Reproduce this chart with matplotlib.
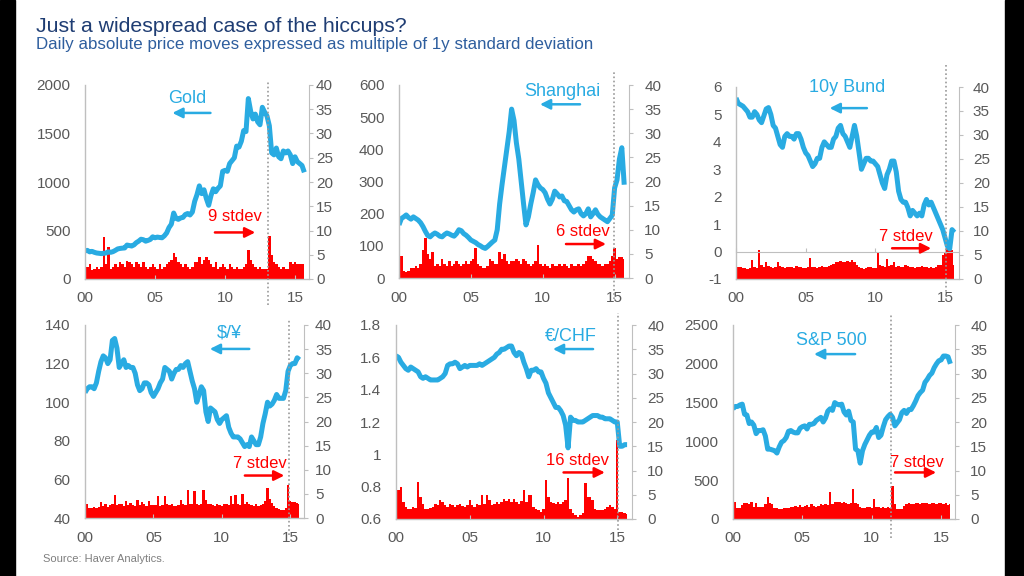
import numpy as np
import matplotlib
matplotlib.use("Agg")
import matplotlib.pyplot as plt
from matplotlib.patches import Rectangle

plt.rcParams['font.family'] = ['Liberation Sans', 'DejaVu Sans']

# ---------------- data (bi-monthly readings, starting Jan 2000) ----------------
START_YEAR = 2000
PER_YEAR = 6

x_ticks = [2000, 2005, 2010, 2015]
x_tick_labels = ["00", "05", "10", "15"]
stdev_ticks = [0, 5, 10, 15, 20, 25, 30, 35, 40]

gold_price = [
    290, 295, 280, 285, 275, 268,
    265, 262, 265, 268, 280, 275,
    282, 295, 310, 315, 318, 320,
    350, 345, 340, 352, 375, 390,
    410, 405, 390, 398, 408, 435,
    425, 432, 428, 425, 445, 475,
    530, 565, 680, 625, 615, 630,
    635, 665, 675, 660, 690, 800,
    870, 960, 880, 920, 830, 760,
    860, 930, 900, 935, 960, 1110,
    1120, 1110, 1190, 1220, 1250, 1370,
    1360, 1420, 1530, 1520, 1860, 1730,
    1650, 1700, 1620, 1590, 1770, 1720,
    1680, 1580, 1300, 1280, 1350, 1260,
    1240, 1320, 1300, 1320, 1280, 1190,
    1260, 1210, 1190, 1170, 1100]
gold_stdev = [
    6.4, 2.5, 3.0, 1.8, 2.0, 2.5,
    2.0, 2.5, 8.7, 3.0, 6.6, 2.0,
    2.5, 3.0, 2.5, 3.5, 3.0, 2.5,
    3.8, 3.5, 3.0, 2.5, 3.5, 3.0,
    2.5, 3.5, 2.5, 2.0, 2.5, 3.0,
    2.5, 2.0, 3.0, 2.0, 2.5, 3.0,
    3.5, 4.0, 5.4, 4.5, 3.5, 3.0,
    2.5, 3.0, 2.5, 2.0, 2.5, 3.5,
    3.5, 4.5, 3.0, 4.0, 4.5, 4.0,
    3.0, 2.5, 3.5, 2.0, 2.5, 3.0,
    2.5, 2.0, 3.0, 2.5, 2.0, 2.5,
    2.0, 2.0, 2.5, 3.0, 6.0, 4.0,
    3.0, 2.5, 2.0, 2.5, 2.0, 2.0,
    2.0, 8.9, 5.0, 3.5, 3.0, 2.5,
    2.0, 2.5, 2.0, 2.0, 3.5, 3.0,
    3.5, 3.0, 3.0, 3.0, 3.0]

shanghai_price = [
    165, 185, 190, 196, 188, 183,
    190, 185, 180, 172, 160, 145,
    132, 128, 135, 140, 136, 130,
    128, 135, 140, 137, 133, 130,
    138, 150, 147, 138, 133, 126,
    118, 114, 110, 104, 100, 95,
    92, 98, 105, 112, 118, 150,
    230, 290, 345, 400, 455, 525,
    490, 420, 370, 300, 230, 165,
    190, 230, 265, 305, 290, 280,
    275, 265, 245, 230, 245, 270,
    262, 252, 255, 240, 238, 225,
    212, 205, 212, 215, 200, 193,
    200, 215, 190, 200, 212, 198,
    190, 185, 180, 175, 185, 195,
    280, 305, 370, 405, 290]
shanghai_stdev = [
    4.8, 4.5, 1.5, 1.2, 1.5, 2.0,
    2.0, 2.5, 2.0, 3.0, 5.8, 8.3,
    5.0, 4.0, 5.4, 2.5, 3.0, 2.5,
    4.0, 3.0, 2.5, 3.5, 2.5, 3.0,
    3.5, 3.0, 2.5, 3.0, 3.5, 3.0,
    3.5, 4.0, 6.2, 3.0, 2.5, 2.0,
    2.0, 2.5, 4.0, 3.5, 3.0, 3.0,
    5.4, 4.0, 5.0, 3.5, 3.0, 3.5,
    3.5, 4.0, 3.5, 3.0, 4.0, 3.5,
    3.0, 2.5, 3.0, 3.5, 6.8, 3.0,
    2.5, 3.0, 2.5, 2.0, 3.0, 2.5,
    2.5, 3.0, 2.5, 3.0, 2.5, 2.0,
    3.0, 2.5, 2.5, 3.0, 2.5, 3.0,
    3.5, 4.5, 4.5, 4.0, 3.5, 3.0,
    3.0, 2.5, 3.0, 3.0, 3.5, 4.5,
    6.2, 4.0, 4.3, 4.3, 4.0]

bund_yield = [
    5.6, 5.4, 5.35, 5.3, 5.2, 5.1,
    4.9, 4.9, 5.1, 5.0, 4.8, 4.7,
    4.95, 5.2, 5.25, 5.0, 4.6, 4.5,
    4.2, 3.9, 3.8, 4.2, 4.3, 4.2,
    4.2, 4.1, 4.3, 4.3, 4.1, 3.8,
    3.6, 3.5, 3.3, 3.1, 3.2, 3.4,
    3.4, 3.8, 4.0, 3.9, 3.8, 3.8,
    4.1, 4.2, 4.5, 4.6, 4.3, 4.2,
    4.0, 3.8, 4.2, 4.6, 4.2, 3.6,
    3.0, 3.2, 3.4, 3.4, 3.3, 3.3,
    3.2, 3.1, 2.8, 2.5, 2.3, 2.8,
    3.0, 3.3, 3.3, 2.9, 2.2, 1.9,
    1.8, 1.8, 1.6, 1.3, 1.5, 1.4,
    1.3, 1.4, 1.3, 1.7, 1.9, 1.7,
    1.8, 1.6, 1.4, 1.2, 1.0, 0.8,
    0.5, 0.2, 0.1, 0.8, 0.7]
bund_stdev = [
    2.9, 2.6, 2.6, 2.3, 2.3, 2.0,
    2.3, 4.0, 2.5, 2.3, 6.0, 3.0,
    2.5, 3.6, 2.8, 2.6, 2.3, 2.5,
    3.6, 2.8, 2.6, 2.3, 2.5, 2.6,
    2.5, 2.3, 2.8, 2.5, 2.5, 2.3,
    2.3, 2.5, 4.4, 2.6, 2.5, 2.3,
    2.6, 2.8, 2.5, 2.6, 2.8, 3.0,
    3.2, 3.6, 3.5, 3.8, 3.5, 3.6,
    3.8, 3.5, 4.0, 3.6, 3.0, 2.5,
    2.3, 2.0, 2.3, 2.6, 2.5, 2.3,
    2.3, 5.7, 3.0, 2.8, 2.6, 4.1,
    2.8, 3.0, 3.5, 2.6, 2.8, 2.5,
    2.6, 3.0, 2.8, 2.5, 2.6, 2.3,
    2.5, 2.6, 2.8, 2.6, 2.5, 2.3,
    2.6, 2.3, 2.5, 3.0, 3.0, 5.0,
    5.5, 6.5, 7.0, 6.0, 3.0]

usdjpy = [
    105, 107, 108, 108, 107, 110,
    116, 121, 124, 123, 120, 122,
    132, 133, 128, 118, 120, 122,
    118, 119, 118, 118, 115, 109,
    106, 107, 110, 110, 109, 105,
    103, 105, 107, 110, 112, 118,
    117, 116, 112, 115, 117, 117,
    119, 118, 120, 121, 116, 111,
    107, 100, 104, 108, 106, 95,
    90, 97, 96, 95, 91, 89,
    91, 92, 93, 87, 84, 82,
    82, 82, 81, 79, 77, 78,
    77, 82, 80, 78, 78, 82,
    89, 94, 100, 98, 99, 101,
    104, 102, 102, 102, 106, 116,
    119, 120, 120, 123, 122]
usdjpy_stdev = [
    3.4, 3.0, 2.1, 2.0, 2.2, 2.1,
    2.3, 3.4, 2.5, 2.8, 2.3, 2.6,
    2.8, 4.8, 2.6, 2.9, 3.0, 2.4,
    3.6, 2.7, 3.2, 2.6, 2.5, 3.7,
    2.6, 3.3, 2.8, 2.5, 3.6, 2.6,
    2.7, 2.6, 4.6, 2.5, 2.6, 4.6,
    2.8, 2.6, 2.9, 2.4, 2.5, 2.6,
    3.7, 2.8, 2.6, 5.9, 3.0, 2.8,
    5.6, 3.0, 2.6, 3.0, 5.7, 3.7,
    3.0, 2.8, 2.6, 2.5, 2.9, 2.6,
    2.4, 2.8, 3.0, 2.6, 4.6, 2.8,
    4.8, 3.0, 2.6, 5.0, 2.8, 3.4,
    3.0, 2.6, 2.5, 2.8, 2.4, 2.6,
    3.0, 3.6, 6.2, 4.0, 3.2, 2.5,
    2.0, 1.8, 1.6, 1.7, 2.0, 6.9,
    3.5, 3.4, 3.3, 3.2, 3.0]

eurchf = [
    1.61, 1.60, 1.57, 1.55, 1.53, 1.52,
    1.54, 1.53, 1.52, 1.51, 1.48, 1.47,
    1.48, 1.47, 1.46, 1.46, 1.46, 1.46,
    1.47, 1.48, 1.50, 1.55, 1.56, 1.56,
    1.57, 1.56, 1.53, 1.54, 1.55, 1.54,
    1.55, 1.55, 1.55, 1.55, 1.56, 1.55,
    1.56, 1.57, 1.58, 1.59, 1.60, 1.62,
    1.63, 1.65, 1.65, 1.66, 1.67, 1.67,
    1.63, 1.61, 1.63, 1.62, 1.57, 1.53,
    1.48, 1.52, 1.52, 1.53, 1.51, 1.51,
    1.47, 1.44, 1.38, 1.35, 1.32, 1.29,
    1.29, 1.27, 1.24, 1.18, 1.04, 1.23,
    1.21, 1.21, 1.20, 1.20, 1.20, 1.21,
    1.22, 1.23, 1.24, 1.24, 1.24, 1.23,
    1.23, 1.22, 1.22, 1.22, 1.21, 1.20,
    1.20, 1.05, 1.05, 1.06, 1.06]
eurchf_stdev = [
    6.0, 6.0, 6.6, 3.5, 2.5, 2.0,
    2.0, 2.5, 2.2, 7.7, 4.5, 3.0,
    2.0, 2.0, 2.2, 2.5, 3.0, 2.8,
    3.9, 3.5, 2.8, 2.5, 3.0, 2.8,
    2.5, 2.8, 3.0, 2.6, 2.5, 2.8,
    3.9, 2.8, 2.5, 3.0, 2.8, 5.0,
    3.0, 5.0, 3.9, 2.8, 3.0, 3.5,
    3.0, 3.5, 4.2, 3.8, 4.2, 3.5,
    4.2, 3.5, 3.0, 3.8, 6.0, 3.5,
    5.0, 5.0, 2.5, 2.0, 1.8, 1.5,
    2.0, 8.0, 4.5, 3.5, 3.3, 3.0,
    3.5, 3.0, 3.5, 4.0, 8.5, 2.0,
    1.2, 0.8, 0.5, 0.8, 1.2, 7.4,
    4.5, 4.5, 4.0, 2.0, 1.8, 1.8,
    1.8, 2.0, 2.5, 2.9, 2.5, 2.0,
    16.3, 1.5, 1.5, 1.2, 1.0]

spx = [
    1420, 1450, 1450, 1470, 1480, 1350,
    1340, 1230, 1250, 1210, 1100, 1140,
    1140, 1150, 1070, 900, 900, 890,
    880, 850, 930, 990, 1010, 1050,
    1130, 1140, 1120, 1110, 1110, 1170,
    1190, 1200, 1160, 1220, 1220, 1230,
    1270, 1290, 1310, 1250, 1300, 1390,
    1420, 1400, 1500, 1480, 1470, 1480,
    1380, 1340, 1390, 1270, 1250, 900,
    880, 720, 880, 960, 1020, 1080,
    1120, 1120, 1180, 1050, 1080, 1190,
    1280, 1320, 1350, 1310, 1200, 1240,
    1280, 1370, 1400, 1360, 1410, 1410,
    1460, 1520, 1590, 1630, 1660, 1760,
    1800, 1850, 1880, 1950, 2000, 2040,
    2050, 2100, 2100, 2090, 2000]
spx_stdev = [
    4.6, 3.5, 2.3, 2.3, 2.8, 3.3,
    3.3, 3.0, 3.6, 2.5, 3.3, 2.5,
    2.5, 2.5, 3.0, 4.6, 3.3, 3.0,
    2.3, 2.3, 2.0, 2.0, 2.2, 2.3,
    2.3, 2.5, 2.5, 2.6, 2.5, 2.8,
    2.5, 2.7, 2.8, 2.5, 3.0, 2.6,
    2.5, 2.6, 3.0, 2.8, 3.0, 2.8,
    5.6, 3.0, 3.6, 3.6, 3.5, 3.4,
    3.5, 3.3, 3.0, 3.3, 6.2, 3.3,
    3.0, 2.4, 2.2, 2.3, 2.4, 2.4,
    2.3, 4.2, 2.5, 2.4, 2.3, 2.5,
    2.3, 2.4, 2.3, 6.9, 3.0, 2.0,
    2.0, 2.0, 2.6, 3.0, 3.2, 3.0,
    3.0, 3.2, 3.3, 3.0, 3.3, 3.2,
    3.2, 3.0, 3.3, 3.2, 3.0, 3.3,
    3.3, 3.0, 3.2, 2.8, 3.0]

# ---------------- style ----------------
BLUE = '#29ABE2'
RED = '#FF0000'
TXT = '#595959'
SPINE = '#BFBFBF'
DOT = '#9A9A9A'
W, H = 1024, 576

fig = plt.figure(figsize=(W / 100, H / 100), dpi=100, facecolor='white')
fig.patches.append(Rectangle((0, 0), 15 / W, 1, transform=fig.transFigure,
                             color='black', zorder=-5))
fig.patches.append(Rectangle((1005 / W, 0), 19 / W, 1, transform=fig.transFigure,
                             color='black', zorder=-5))


def px_rect(l, r, t, b):
    return [l / W, 1 - b / H, (r - l) / W, (b - t) / H]


panels = [
    dict(rect=px_rect(85, 309, 85, 279), price=gold_price, stdev=gold_stdev,
         ylim=(0, 2000), yticks=[0, 500, 1000, 1500, 2000],
         ylabels=["0", "500", "1000", "1500", "2000"],
         name="Gold", name_xy=(0.455, 0.93), name_arrow=(0.56, 0.39, 0.856),
         event=13.07, event_span=(-0.134, 1.026), rpad=2,
         sd_text="9 stdev", sd_xy=(0.67, 0.32), sd_arrow=(0.58, 0.76, 0.24)),
    dict(rect=px_rect(399, 629, 85, 278), price=shanghai_price, stdev=shanghai_stdev,
         ylim=(0, 600), yticks=[0, 100, 200, 300, 400, 500, 600],
         ylabels=["0", "100", "200", "300", "400", "500", "600"],
         name="Shanghai", name_xy=(0.71, 0.965), name_arrow=(0.787, 0.613, 0.90),
         event=14.93, event_span=(-0.11, 1.07), rpad=8,
         sd_text="6 stdev", sd_xy=(0.80, 0.24), sd_arrow=(0.726, 0.90, 0.176)),
    dict(rect=px_rect(736, 959, 87, 279), price=bund_yield, stdev=bund_stdev,
         ylim=(-1, 6), yticks=[-1, 0, 1, 2, 3, 4, 5, 6],
         ylabels=["-1", "0", "1", "2", "3", "4", "5", "6"],
         name="10y Bund", name_xy=(0.50, 0.995), name_arrow=(0.587, 0.42, 0.89),
         event=15.1, event_span=(-0.11, 1.12), rpad=7, zero_line=True,
         sd_text="7 stdev", sd_xy=(0.76, 0.22), sd_arrow=(0.70, 0.875, 0.16)),
    dict(rect=px_rect(85, 304, 325, 518), price=usdjpy, stdev=usdjpy_stdev,
         ylim=(40, 140), yticks=[40, 60, 80, 100, 120, 140],
         ylabels=["40", "60", "80", "100", "120", "140"],
         name="$/¥", name_xy=(0.66, 0.96), name_arrow=(0.75, 0.57, 0.876),
         event=14.9, event_span=(-0.088, 1.026), rpad=5,
         sd_text="7 stdev", sd_xy=(0.80, 0.28), sd_arrow=(0.73, 0.91, 0.22)),
    dict(rect=px_rect(396, 632, 325, 519), price=eurchf, stdev=eurchf_stdev,
         ylim=(0.6, 1.8), yticks=[0.6, 0.8, 1.0, 1.2, 1.4, 1.6, 1.8],
         ylabels=["0.6", "0.8", "1", "1.2", "1.4", "1.6", "1.8"],
         name="€/CHF", name_xy=(0.74, 0.94), name_arrow=(0.835, 0.665, 0.876),
         event=15.04, event_span=(-0.057, 1.06), rpad=8,
         sd_text="16 stdev", sd_xy=(0.77, 0.30), sd_arrow=(0.71, 0.885, 0.24)),
    dict(rect=px_rect(733, 955, 325, 519), price=spx, stdev=spx_stdev,
         ylim=(0, 2500), yticks=[0, 500, 1000, 1500, 2000, 2500],
         ylabels=["0", "500", "1000", "1500", "2000", "2500"],
         name="S&P 500", name_xy=(0.445, 0.92), name_arrow=(0.55, 0.365, 0.85),
         event=11.42, event_span=(-0.10, 1.06), rpad=8,
         sd_text="7 stdev", sd_xy=(0.83, 0.29), sd_arrow=(0.73, 0.915, 0.24)),
]

for p in panels:
    ax = fig.add_axes(p['rect'])
    axr = ax.twinx()
    ax.set_zorder(axr.get_zorder() + 1)
    ax.patch.set_visible(False)

    xs_sd = START_YEAR + np.arange(len(p['stdev'])) / PER_YEAR
    axr.fill_between(xs_sd, 0, p['stdev'], step='mid', color=RED, linewidth=0)
    axr.set_ylim(0, 40)
    axr.set_yticks(stdev_ticks)

    xs = START_YEAR + np.arange(len(p['price'])) / PER_YEAR
    ax.plot(xs, p['price'], color=BLUE, lw=3.6, solid_joinstyle='round',
            solid_capstyle='butt')
    ax.set_xlim(2000, 2016)
    ax.set_ylim(*p['ylim'])
    ax.set_yticks(p['yticks'])
    ax.set_yticklabels(p['ylabels'])
    ax.set_xticks(x_ticks)
    ax.set_xticklabels(x_tick_labels)

    for s in ['top', 'right']:
        ax.spines[s].set_visible(False)
    for s in ['left', 'bottom']:
        ax.spines[s].set_color(SPINE)
        ax.spines[s].set_linewidth(1.0)
    for s in ['top', 'left', 'bottom']:
        axr.spines[s].set_visible(False)
    axr.spines['right'].set_color(SPINE)

    ax.tick_params(axis='y', length=0, pad=10.5, labelsize=11, labelcolor=TXT)
    ax.tick_params(axis='x', direction='in', length=3, color=SPINE, pad=9,
                   labelsize=11, labelcolor=TXT)
    axr.tick_params(axis='y', direction='out', length=3, color=SPINE,
                    pad=p['rpad'], labelsize=11, labelcolor=TXT)

    if p.get('zero_line'):
        y0, y1 = p['ylim']
        sec = ax.secondary_xaxis((0 - y0) / (y1 - y0))
        sec.set_xticks(x_ticks)
        sec.tick_params(direction='in', length=3, color=SPINE,
                        labelbottom=False, labeltop=False)
        for s in sec.spines.values():
            s.set_color(SPINE)
        ax.tick_params(axis='x', length=0)

    # event marker
    ax.axvline(START_YEAR + p['event'], ymin=p['event_span'][0],
               ymax=p['event_span'][1], color=DOT, lw=1.2,
               linestyle=(0, (1, 1.5)), clip_on=False, zorder=5)

    # series label + arrow
    ax.text(*p['name_xy'], p['name'], transform=ax.transAxes, ha='center',
            va='center', fontsize=13, color=BLUE)
    a0, a1, ay = p['name_arrow']
    ax.annotate('', xy=(a1, ay), xytext=(a0, ay), xycoords='axes fraction',
                arrowprops=dict(arrowstyle='-|>,head_length=0.6,head_width=0.3',
                                color=BLUE, lw=1.8, shrinkA=0, shrinkB=0,
                                mutation_scale=10))
    ax.text(*p['sd_xy'], p['sd_text'], transform=ax.transAxes, ha='center',
            va='center', fontsize=12, color=RED)
    b0, b1, by = p['sd_arrow']
    ax.annotate('', xy=(b1, by), xytext=(b0, by), xycoords='axes fraction',
                arrowprops=dict(arrowstyle='-|>,head_length=0.6,head_width=0.3',
                                color=RED, lw=1.8, shrinkA=0, shrinkB=0,
                                mutation_scale=10))

fig.text(36 / W, 1 - 32 / H, "Just a widespread case of the hiccups?",
         fontsize=15.3, color='#1F3D73', ha='left', va='baseline')
fig.text(36 / W, 1 - 48.5 / H,
         "Daily absolute price moves expressed as multiple of 1y standard deviation",
         fontsize=12.2, color='#2E5E9E', ha='left', va='baseline')
fig.text(43 / W, 1 - 559 / H, "Source: Haver Analytics.", fontsize=8,
         color='#7F7F7F', ha='left', va='center')

fig.savefig('out.png', dpi=100)
